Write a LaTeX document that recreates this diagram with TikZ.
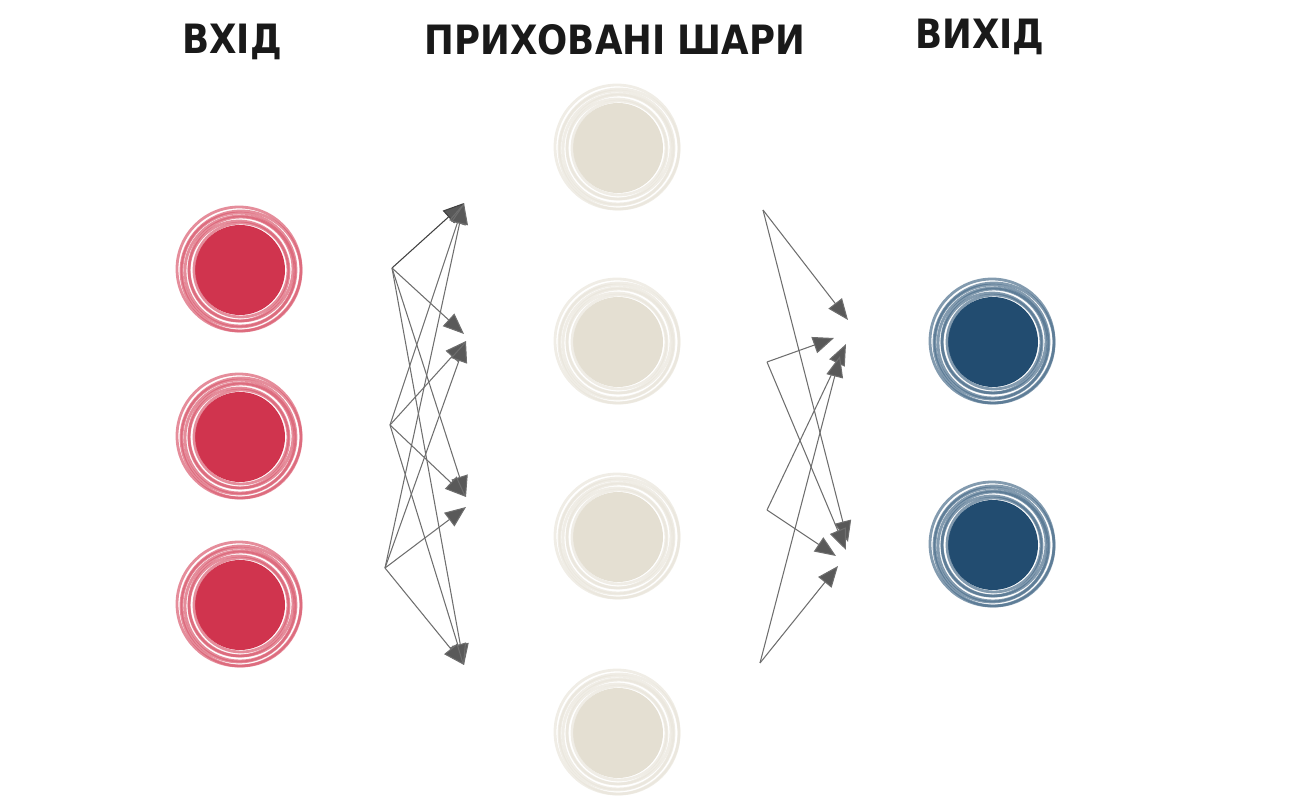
\documentclass[tikz,border=0pt]{standalone}
\usepackage{fontspec}
\setmainfont{DejaVu Sans}
\usetikzlibrary{arrows.meta,calc}

\definecolor{inred}{RGB}{208,52,78}
\definecolor{hidbeige}{RGB}{228,223,210}
\definecolor{outblue}{RGB}{34,76,112}
\definecolor{syngray}{RGB}{110,110,110}

\tikzset{
  neuron/.style={circle, draw=none, inner sep=0pt, minimum size=1.8cm},
  ring/.style={line width=1.6pt, opacity=0.7},
  title/.style={font=\fontsize{23}{26}\selectfont\bfseries, text=black!90, xscale=0.88},
  syn/.style={syngray, line width=0.6pt, -{Triangle[length=0.42cm, width=0.34cm, fill=black!65]}}
}

% one sketchy dot: name, x, y, colour
\newcommand{\neuron}[4]{%
  \node[neuron, fill=#4] (#1) at (#2,#3) {};
  \foreach \r/\dx/\dy in {47/1/0, 50/-1/1, 52/1/-1, 55/0/1, 57/-1/0, 60/1/1, 62/-1/-1}
    \draw[#4!80, ring] ($(#1)+(\dx,\dy)$) circle (\r*0.02cm);
}

\begin{document}
\begin{tikzpicture}[x=0.02cm, y=-0.02cm]
    \useasboundingbox (0,0) rectangle (1302,800);

    % titles
    \node[title] (tin)  at (232,42) {ВХІД};
    \node[title] (thid) at (615,40) {ПРИХОВАНІ ШАРИ};
    \node[title] (tout) at (980,37) {ВИХІД};

    % layers
    \neuron{i1}{240}{270}{inred}
    \neuron{i2}{240}{437}{inred}
    \neuron{i3}{240}{605}{inred}

    \neuron{h1}{618}{148}{hidbeige}
    \neuron{h2}{618}{342}{hidbeige}
    \neuron{h3}{618}{537}{hidbeige}
    \neuron{h4}{618}{733}{hidbeige}

    \neuron{o1}{993}{342}{outblue}
    \neuron{o2}{993}{545}{outblue}

    % left bundle
    \coordinate (s1) at (392,268);
    \coordinate (s2) at (390,425);
    \coordinate (s3) at (385,568);
    \coordinate (t1) at (464,203);
    \coordinate (t2) at (464,334);
    \coordinate (t3) at (466,341);
    \coordinate (t4) at (466,497);
    \coordinate (t5) at (466,507);
    \coordinate (t6) at (464,665);

    \draw[syn, black!75] (s1) -- (t1);
    \draw[syn] (s1) -- (t2);
    \draw[syn] (s1) -- (t4);
    \draw[syn] (s1) -- (t6);
    \draw[syn] (s2) -- (t1);
    \draw[syn] (s2) -- (t3);
    \draw[syn] (s2) -- (t4);
    \draw[syn] (s2) -- (t6);
    \draw[syn] (s3) -- (t1);
    \draw[syn] (s3) -- (t3);
    \draw[syn] (s3) -- (t5);
    \draw[syn] (s3) -- (t6);

    % right bundle
    \coordinate (r1) at (763,210);
    \coordinate (r2) at (767,362);
    \coordinate (r3) at (767,510);
    \coordinate (r4) at (760,663);
    \coordinate (u1) at (848,320);
    \coordinate (u2) at (834,338);
    \coordinate (u3) at (846,344);
    \coordinate (u4) at (840,356);
    \coordinate (v1) at (848,542);
    \coordinate (v2) at (846,550);
    \coordinate (v3) at (836,556);
    \coordinate (v4) at (838,566);

    \draw[syn] (r1) -- (u1);
    \draw[syn] (r1) -- (v1);
    \draw[syn] (r2) -- (u2);
    \draw[syn] (r2) -- (v2);
    \draw[syn] (r3) -- (u3);
    \draw[syn] (r3) -- (v3);
    \draw[syn] (r4) -- (u4);
    \draw[syn] (r4) -- (v4);

\end{tikzpicture}
\end{document}
